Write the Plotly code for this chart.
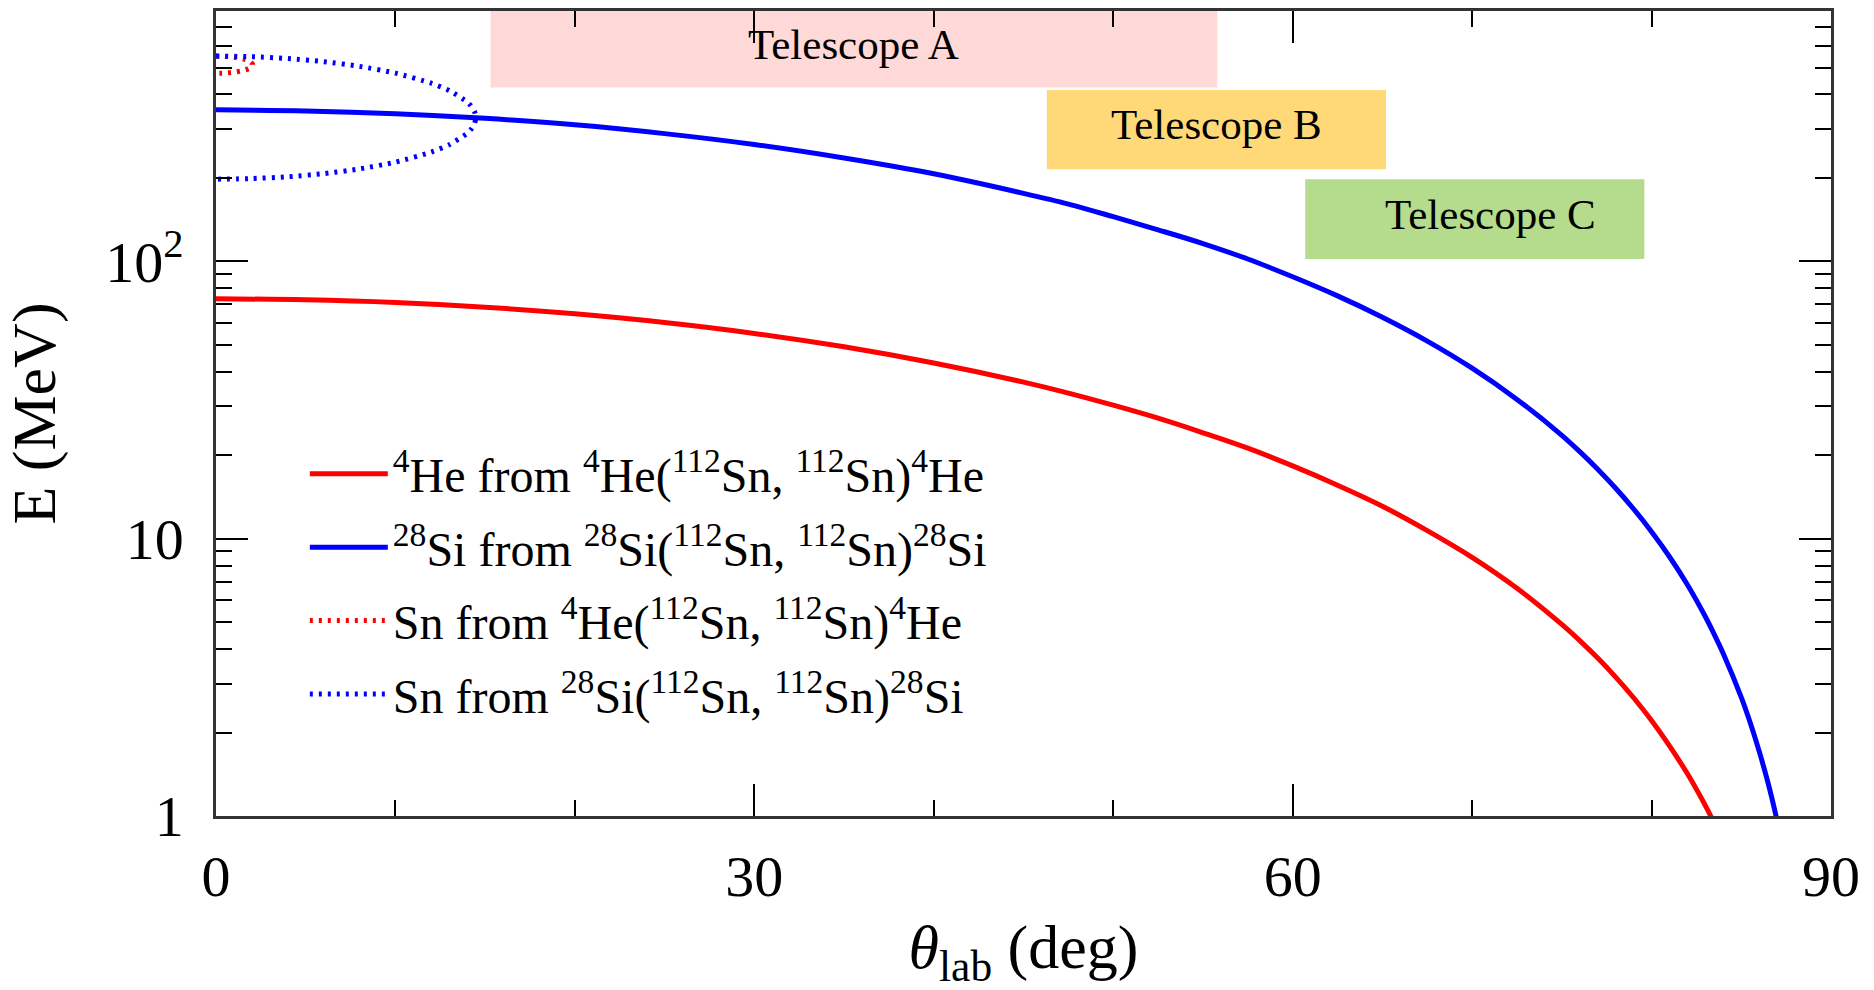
import math
import plotly.graph_objects as go

# ---------------- data ----------------
theta_he = [0, 5, 10, 15, 20, 25, 30, 35, 40, 45, 47.5, 50, 52.5, 55, 57.5, 60, 62.5, 65, 67.5,
            70, 72.5, 75, 76, 77, 78, 79, 80, 81, 82, 83, 83.5, 84]
E_he = [73.3, 72.7, 71.1, 68.4, 64.7, 60.2, 55.0, 49.2, 43.0, 36.7, 33.5, 30.3, 27.2, 24.1, 21.2,
        18.3, 15.6, 13.1, 10.7, 8.57, 6.63, 4.91, 4.29, 3.71, 3.17, 2.67, 2.21, 1.79, 1.42, 1.09,
        0.94, 0.80]

theta_si = [0, 5, 10, 15, 20, 25, 30, 35, 40, 45, 47.5, 50, 52.5, 55, 57.5, 60, 62.5, 65, 67.5,
            70, 72.5, 75, 76, 77, 78, 79, 80, 81, 82, 83, 83.5, 84, 85, 85.5, 86, 86.5, 87, 87.5]
E_si = [352, 349, 341, 328, 311, 289, 264, 236, 207, 176, 161, 145, 130, 116, 102, 88.0, 75.1,
        62.9, 51.6, 41.2, 31.8, 23.6, 20.6, 17.8, 15.2, 12.8, 10.6, 8.61, 6.82, 5.23, 4.51, 3.85,
        2.68, 2.17, 1.71, 1.31, 0.96, 0.67]

theta_sn_he = [0, 0.5, 1.0, 1.5, 1.8, 1.95, 2.047, 1.95, 1.8, 1.5, 1.0, 0.5, 0]
E_sn_he = [550, 548.8, 545.0, 537.6, 529.8, 523.3, 512.1, 501.1, 494.9, 487.8, 481.1, 477.8, 476.8]

theta_sn_si = [0, 2, 4, 6, 8, 10, 12, 13, 14, 14.2, 14.4, 14.48,
               14.4, 14.2, 14, 13, 12, 10, 8, 6, 4, 2, 0]
E_sn_si = [550, 547.3, 539.2, 525.3, 505.1, 477.5, 439.2, 413.2, 375.9, 364.5, 347.9, 330,
           313.0, 298.7, 289.7, 263.6, 248.0, 228.1, 215.6, 207.3, 202.0, 199.0, 198]

series_names = [
    "<sup>4</sup>He from <sup>4</sup>He(<sup>112</sup>Sn, <sup>112</sup>Sn)<sup>4</sup>He",
    "<sup>28</sup>Si from <sup>28</sup>Si(<sup>112</sup>Sn, <sup>112</sup>Sn)<sup>28</sup>Si",
    "Sn from <sup>4</sup>He(<sup>112</sup>Sn, <sup>112</sup>Sn)<sup>4</sup>He",
    "Sn from <sup>28</sup>Si(<sup>112</sup>Sn, <sup>112</sup>Sn)<sup>28</sup>Si",
]

# telescopes: name, theta range, energy range
tele_names = ["Telescope A", "Telescope B", "Telescope C"]
tele_theta0 = [15.3, 46.3, 60.7]
tele_theta1 = [55.8, 65.2, 79.6]
tele_E0 = [424, 215, 102]
tele_E1 = [800, 415, 198]
tele_colors = ["#FFD8D8", "#FFD878", "#B4DC8C"]
tele_text_theta = [35.55, 55.75, 71.0]

y_tickvals = [1, 10, 100]
y_ticktext = ["1", "10", "10<sup>2</sup>"]
x_tickvals = [0, 30, 60, 90]

FONT = "Liberation Serif, Times New Roman, serif"
DOT = "3px,6px"

fig = go.Figure()
fig.add_trace(go.Scatter(x=theta_he, y=E_he, mode="lines", name=series_names[0], legendgroup="g1",
                         line=dict(color="#FF0000", width=5, shape="spline", smoothing=1.0)))
fig.add_trace(go.Scatter(x=theta_si, y=E_si, mode="lines", name=series_names[1], legendgroup="g2",
                         line=dict(color="#0000FF", width=5, shape="spline", smoothing=1.0)))
fig.add_trace(go.Scatter(x=theta_sn_he, y=E_sn_he, mode="lines", name=series_names[2], legendgroup="g3",
                         line=dict(color="#FF0000", width=5, dash=DOT, shape="spline", smoothing=0.6)))
fig.add_trace(go.Scatter(x=theta_sn_si, y=E_sn_si, mode="lines", name=series_names[3], legendgroup="g4",
                         line=dict(color="#0000FF", width=5, dash=DOT, shape="spline", smoothing=0.6)))

for i in range(len(tele_names)):
    fig.add_shape(type="rect", xref="x", yref="y",
                  x0=tele_theta0[i], x1=tele_theta1[i], y0=tele_E0[i], y1=tele_E1[i],
                  fillcolor=tele_colors[i], line=dict(width=0), layer="below")
    fig.add_annotation(x=tele_text_theta[i], y=math.log10(math.sqrt(tele_E0[i] * min(tele_E1[i], 800))),
                       xref="x", yref="y", text=tele_names[i], showarrow=False, yshift=5,
                       font=dict(family=FONT, size=43, color="black"))

axis_common = dict(
    showline=True, linecolor="#333333", linewidth=2.5, mirror="allticks",
    ticks="inside", tickcolor="black", tickwidth=1.5, showgrid=False, zeroline=False,
    tickfont=dict(family=FONT, size=58, color="black"),
)

fig.update_xaxes(
    range=[0, 90], tickvals=x_tickvals, ticklen=32,
    minor=dict(dtick=10, ticks="inside", ticklen=16, tickcolor="black", tickwidth=1.5, showgrid=False),
    title=dict(text="<i>θ</i><sub>lab</sub> (deg)", font=dict(family=FONT, size=62, color="black"), standoff=18),
    ticklabelstandoff=8,
    **axis_common,
)
fig.update_yaxes(
    type="log", range=[0, math.log10(800)], tickvals=y_tickvals, ticktext=y_ticktext, ticklen=32,
    minor=dict(dtick="D1", ticks="inside", ticklen=16, tickcolor="black", tickwidth=1.5, showgrid=False),
    title=dict(text="E (MeV)", font=dict(family=FONT, size=62, color="black"), standoff=30),
    ticklabelstandoff=18,
    **axis_common,
)

fig.update_layout(
    width=1874, height=990,
    margin=dict(l=216, r=43, t=8, b=174),
    paper_bgcolor="white", plot_bgcolor="white",
    font=dict(family=FONT, color="black"),
    showlegend=True,
    legend=dict(x=0.055, y=0.472, xanchor="left", yanchor="top",
                bgcolor="rgba(0,0,0,0)", font=dict(family=FONT, size=48, color="black"),
                itemwidth=78, tracegroupgap=8),
)

fig.write_html("out.html")
